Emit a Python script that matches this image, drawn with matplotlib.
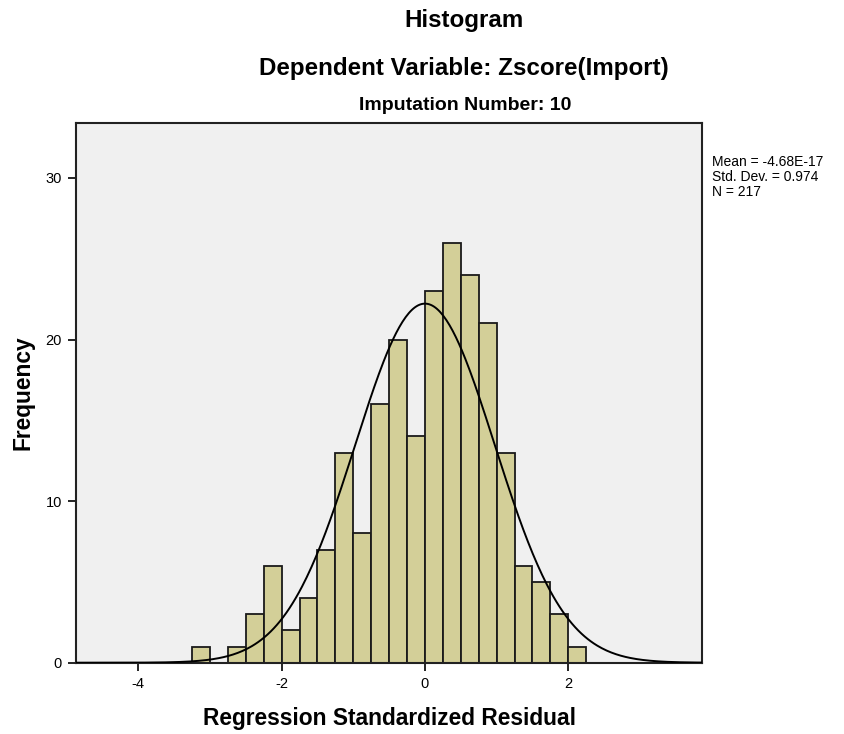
import numpy as np
import matplotlib.pyplot as plt

# histogram counts, bins of width 0.25
bin_left = [-3.25, -2.75, -2.5, -2.25, -2.0, -1.75, -1.5, -1.25, -1.0, -0.75,
            -0.5, -0.25, 0.0, 0.25, 0.5, 0.75, 1.0, 1.25, 1.5, 1.75, 2.0]
counts = [1, 1, 3, 6, 2, 4, 7, 13, 8, 16,
          20, 14, 23, 26, 24, 21, 13, 6, 5, 3, 1]
bin_width = 0.25

mean = -4.68e-17
std = 0.974
n = 217

xticks = [-4, -2, 0, 2]
yticks = [0, 10, 20, 30]

plt.rcParams['font.family'] = ['Liberation Sans', 'DejaVu Sans']

fig = plt.figure(figsize=(8.45, 7.34), dpi=100)
ax = fig.add_axes([76 / 845, 1 - 662.7 / 734, (702.3 - 76) / 845, (662.7 - 123.3) / 734])
ax.set_facecolor('#f0f0f0')

ax.bar(bin_left, counts, width=bin_width, align='edge', color='#d3cf98',
       edgecolor='#1a1a1a', linewidth=1.3, zorder=2)

# normal curve scaled to the histogram
xs = np.linspace(-4.87, 3.87, 400)
ys = n * bin_width / (std * np.sqrt(2 * np.pi)) * np.exp(-0.5 * ((xs - mean) / std) ** 2)
ax.plot(xs, ys, color='black', linewidth=1.4, zorder=3)

ax.set_xlim(-4.87, 3.87)
ax.set_ylim(0, 33.38)
ax.set_xticks(xticks)
ax.set_xticklabels([str(t) for t in xticks])
ax.set_yticks(yticks)
ax.tick_params(direction='out', length=6, width=1.2, labelsize=10.5, colors='black', pad=4)
for s in ax.spines.values():
    s.set_linewidth(1.5)
    s.set_color('#222222')

ax.set_xlabel('Regression Standardized Residual', fontsize=16.4, fontweight='bold', labelpad=12)
ax.set_ylabel('Frequency', fontsize=16.4, fontweight='bold', labelpad=8)

fig.text(0.549, 1 - 21 / 734, 'Histogram', ha='center', va='center', fontsize=17.4, fontweight='bold')
fig.text(0.549, 1 - 68 / 734, 'Dependent Variable: Zscore(Import)', ha='center', va='center',
         fontsize=17.4, fontweight='bold')
fig.text(0.550, 1 - 106 / 734, 'Imputation Number: 10', ha='center', va='center',
         fontsize=14, fontweight='bold')

fig.text(712 / 845, 1 - 155 / 734,
         'Mean = %.2E\nStd. Dev. = %.3f\nN = %d' % (mean, std, n),
         ha='left', va='top', fontsize=10, linespacing=1.1)

fig.savefig('out.png', dpi=100)
